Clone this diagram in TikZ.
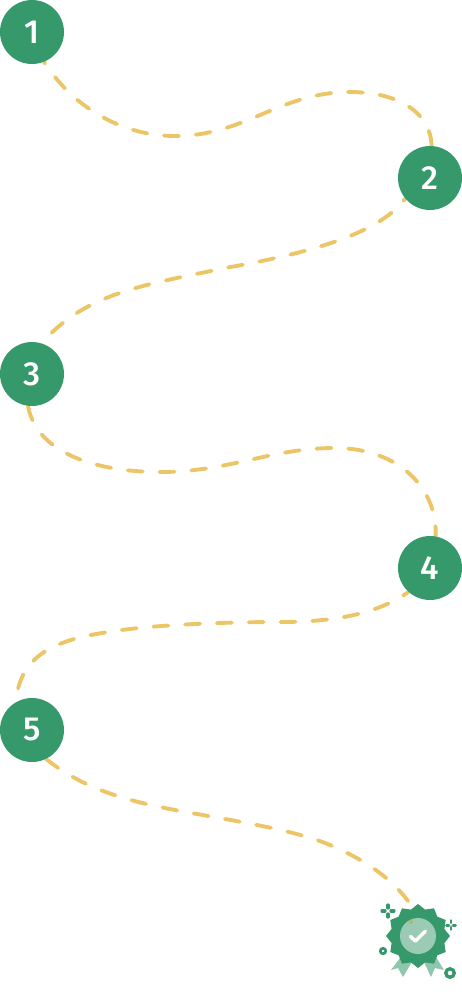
\documentclass[tikz,border=0pt]{standalone}
\usepackage{fontspec}
\setmainfont{Open Sans}
\newfontfamily\stepfont{Fira Sans Medium}
\usetikzlibrary{shapes.geometric,backgrounds}
\definecolor{stepgreen}{HTML}{36996B}
\definecolor{ribbongreen}{HTML}{8FC6AD}
\definecolor{sealgreen}{HTML}{9CCBB5}
\definecolor{trailyellow}{HTML}{ECC566}
\begin{document}
\begin{tikzpicture}[x=0.02cm,y=-0.02cm,
  stepnode/.style={circle,fill=stepgreen,text=white,minimum size=1.28cm,inner sep=0pt,font=\fontsize{19}{19}\stepfont},
  trail/.style={trailyellow,line width=2.2pt,line cap=round,dash pattern=on 8.5pt off 9.6pt},
  ring/.style={circle,draw=stepgreen,line width=1.5pt,fill=white,inner sep=0pt},
  ribbon/.style={fill=ribbongreen}]
\useasboundingbox (0,0) rectangle (462,992);
\node[stepnode] (one) at (32,32) {1};
\node[stepnode] (two) at (430,178) {2};
\node[stepnode] (three) at (32,374) {3};
\node[stepnode] (four) at (430,568) {4};
\node[stepnode] (five) at (32,730) {5};
\coordinate (seal top) at (411,905);
\begin{pgfonlayer}{background}
\draw[trail,dash phase=7.5pt] (one.292) .. controls (75,110) and (125,136) .. (175,136) .. controls (245,136) and (280,92) .. (350,92) .. controls (395,92) and (430,110) .. (two.87);
\draw[trail,dash phase=7pt] (two.220) .. controls (385,225) and (340,248) .. (225,268) .. controls (150,284) and (85,292) .. (three.72);
\draw[trail] (three.263) .. controls (37,455) and (100,472) .. (160,472) .. controls (230,472) and (270,448) .. (335,448) .. controls (400,448) and (438,490) .. (four.80);
\draw[trail,dash phase=5pt] (four.228) .. controls (380,612) and (340,622) .. (280,622) .. controls (220,622) and (150,625) .. (108,632) .. controls (55,640) and (20,655) .. (five.120);
\draw[trail] (five.296) .. controls (85,790) and (130,802) .. (186,812) .. controls (235,821) and (295,830) .. (330,845) .. controls (365,860) and (392,878) .. (seal top);
\end{pgfonlayer}
\fill[ribbon] (391,970) -- (400,958) -- (412,962) -- (403,977) -- (398,968) -- cycle;
\fill[ribbon] (424,962) -- (436,957) -- (444,970) -- (435,968) -- (431,977) -- cycle;
\node[star,star points=12,star point ratio=1.17,fill=stepgreen,minimum size=1.28cm,inner sep=0pt] (seal) at (418,936) {};
\node[circle,fill=sealgreen,minimum size=0.72cm,inner sep=0pt] (seal face) at (418,936) {};
\draw[white,line width=2pt,line cap=round,line join=round] (410.5,936.5) -- (415.5,941) -- (425.5,931);
\fill[trailyellow!70!stepgreen] (411,922) circle (2);
\foreach \x/\y/\a/\b/\w in {388/911/3/6/1.9pt,451/925/2.2/4.5/1.7pt} {
  \draw[stepgreen,line width=\w,line cap=round] (\x+\a,\y) -- (\x+\b,\y);
  \draw[stepgreen,line width=\w,line cap=round] (\x-\a,\y) -- (\x-\b,\y);
  \draw[stepgreen,line width=\w,line cap=round] (\x,\y+\a) -- (\x,\y+\b);
  \draw[stepgreen,line width=\w,line cap=round] (\x,\y-\a) -- (\x,\y-\b);
}
\node[ring,minimum size=0.11cm] (dot left) at (383,951) {};
\node[ring,line width=1.9pt,minimum size=0.17cm] (dot right) at (450,973) {};
\end{tikzpicture}
\end{document}
